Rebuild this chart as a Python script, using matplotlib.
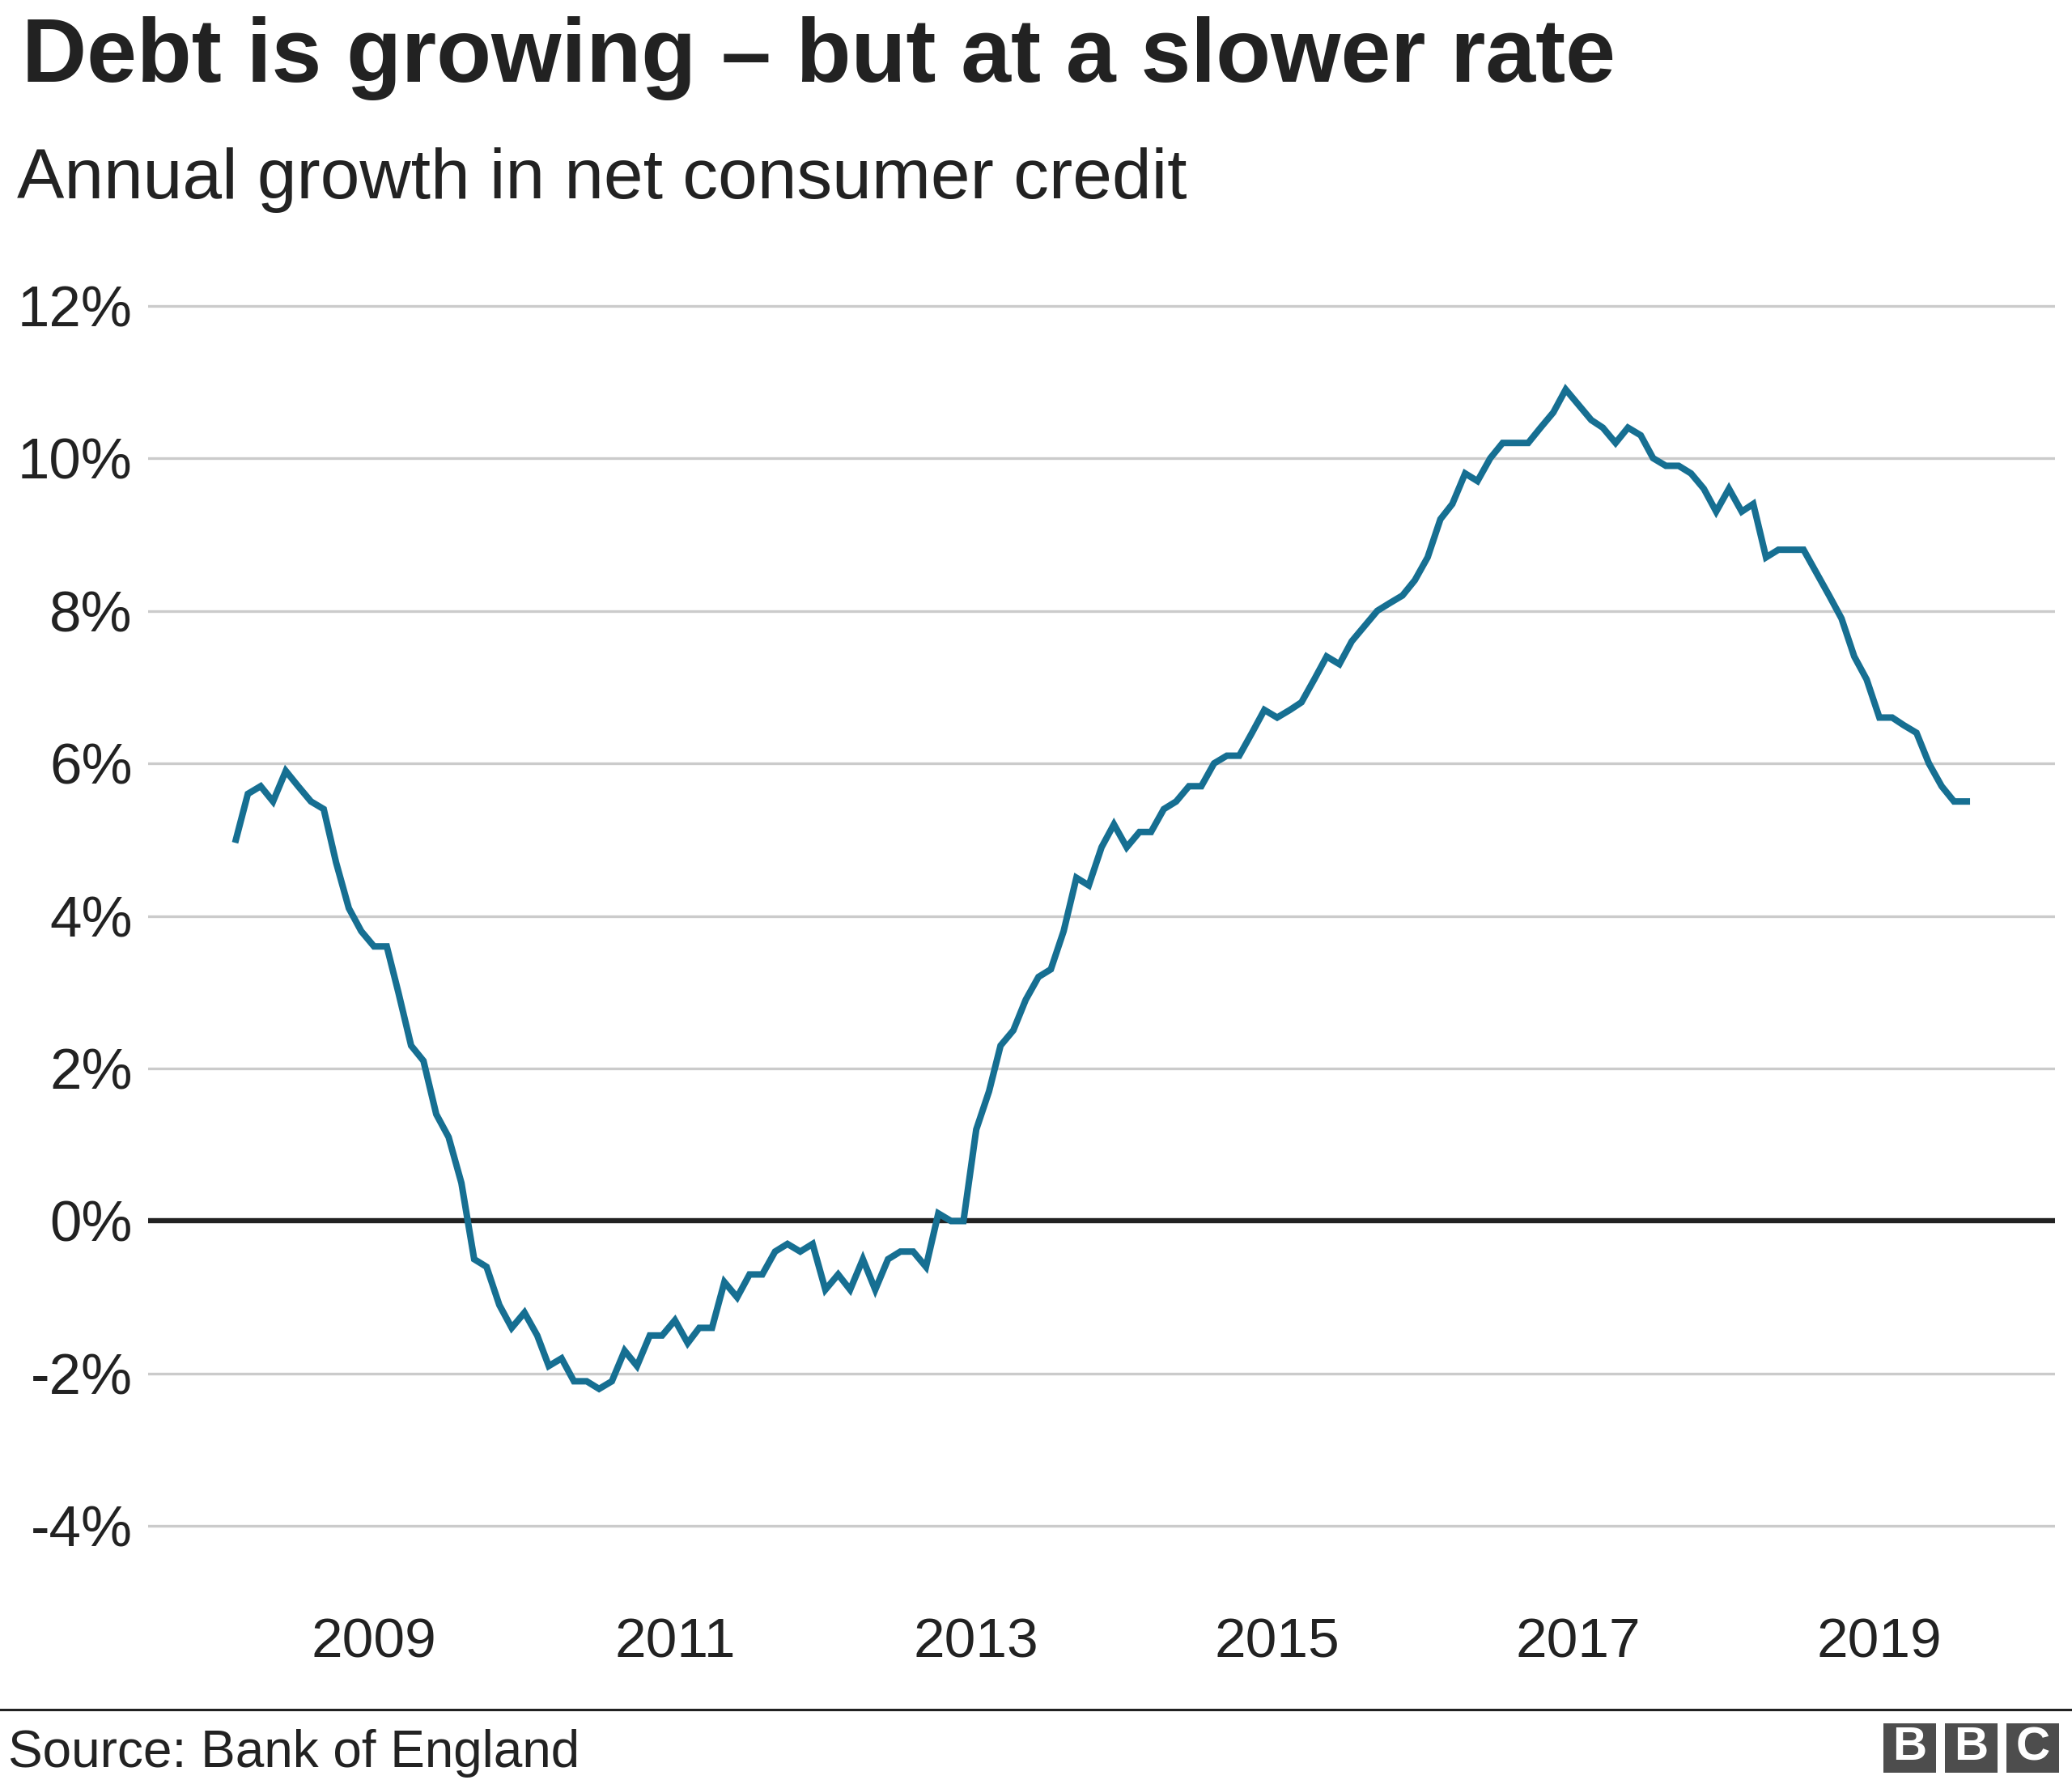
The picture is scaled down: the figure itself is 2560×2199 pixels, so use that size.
import matplotlib
matplotlib.use("Agg")
import matplotlib.pyplot as plt
import matplotlib.dates as mdates
from matplotlib.patches import Rectangle
import pandas as pd

# monthly annual growth in net consumer credit, Feb 2008 - Aug 2019 (%)
start = "2008-02-01"
growth = [5.0, 5.6, 5.7, 5.5, 5.9, 5.7, 5.5, 5.4, 4.7, 4.1, 3.8, 3.6, 3.6, 3.0, 2.3, 2.1, 1.4, 1.1,
          0.5, -0.5, -0.6, -1.1, -1.4, -1.2, -1.5, -1.9, -1.8, -2.1, -2.1, -2.2, -2.1, -1.7, -1.9, -1.5, -1.5,
          -1.3, -1.6, -1.4, -1.4, -0.8, -1.0, -0.7, -0.7, -0.4, -0.3, -0.4, -0.3, -0.9, -0.7, -0.9, -0.5, -0.9,
          -0.5, -0.4, -0.4, -0.6, 0.1, 0.0, 0.0, 1.2, 1.7, 2.3, 2.5, 2.9, 3.2, 3.3, 3.8, 4.5, 4.4,
          4.9, 5.2, 4.9, 5.1, 5.1, 5.4, 5.5, 5.7, 5.7, 6.0, 6.1, 6.1, 6.4, 6.7, 6.6, 6.7, 6.8,
          7.1, 7.4, 7.3, 7.6, 7.8, 8.0, 8.1, 8.2, 8.4, 8.7, 9.2, 9.4, 9.8, 9.7, 10.0, 10.2,
          10.2, 10.2, 10.4, 10.6, 10.9, 10.7, 10.5, 10.4, 10.2, 10.4, 10.3, 10.0, 9.9, 9.9, 9.8, 9.6, 9.3,
          9.6, 9.3, 9.4, 8.7, 8.8, 8.8, 8.8, 8.5, 8.2, 7.9, 7.4, 7.1, 6.6, 6.6, 6.5, 6.4, 6.0, 5.7, 5.5, 5.5]
dates = pd.date_range(start, periods=len(growth), freq="MS")

yticks = [-4, -2, 0, 2, 4, 6, 8, 10, 12]
ylabels = ["-4%", "-2%", "0%", "2%", "4%", "6%", "8%", "10%", "12%"]
xyears = [2009, 2011, 2013, 2015, 2017, 2019]

title = "Debt is growing \u2013 but at a slower rate"
subtitle = "Annual growth in net consumer credit"
source = "Source: Bank of England"

plt.rcParams["font.family"] = ["Liberation Sans", "DejaVu Sans"]
txt = "#222222"

W, H = 2560, 2199
fig = plt.figure(figsize=(W / 100, H / 100), dpi=100)

ax = fig.add_axes([183 / W, 1 - 1942 / H, (2539 - 183) / W, (1942 - 321) / H])
ax.plot(dates, growth, color="#166f92", lw=5.8, solid_joinstyle="miter", zorder=3)
ax.axhline(0, color="#222222", lw=4.6, zorder=2)

ax.set_ylim(-4.6, 12.6)
ax.set_yticks(yticks)
ax.set_yticklabels(ylabels)
ax.set_xlim(pd.Timestamp("2009-01-01") - pd.Timedelta(days=548),
            pd.Timestamp("2019-01-01") + pd.Timedelta(days=426))
ax.set_xticks([pd.Timestamp(f"{y}-01-01") for y in xyears])
ax.xaxis.set_major_formatter(mdates.DateFormatter("%Y"))

ax.grid(axis="y", color="#cbcbcb", lw=2.4, zorder=1)
ax.grid(axis="x", visible=False)
for s in ax.spines.values():
    s.set_visible(False)
ax.tick_params(axis="y", length=0, pad=14, labelsize=51, labelcolor=txt)
ax.tick_params(axis="x", length=0, pad=40, labelsize=50, labelcolor=txt)
for lab in ax.get_yticklabels():
    lab.set_horizontalalignment("right")

fig.text(27 / W, 1 - 101 / H, title, fontsize=80, fontweight="bold", color=txt, va="baseline")
fig.text(21 / W, 1 - 245 / H, subtitle, fontsize=63, color=txt, va="baseline")

# footer
fig.add_artist(plt.Line2D([0, 1], [1 - 2112 / H, 1 - 2112 / H], color="#222222", lw=2.2))
fig.text(10 / W, 1 - 2183 / H, source, fontsize=46, color=txt, va="baseline")
for i, letter in enumerate("BBC"):
    x0 = 2327 + i * 76
    fig.add_artist(Rectangle((x0 / W, 1 - 2190 / H), 65 / W, 61 / H,
                             transform=fig.transFigure, color="#4d4d4d", lw=0))
    fig.text((x0 + 32.5) / W, 1 - 2159.5 / H, letter, fontsize=42, fontweight="bold",
             color="white", ha="center", va="center")

fig.savefig("out.png", dpi=100, facecolor="white")
